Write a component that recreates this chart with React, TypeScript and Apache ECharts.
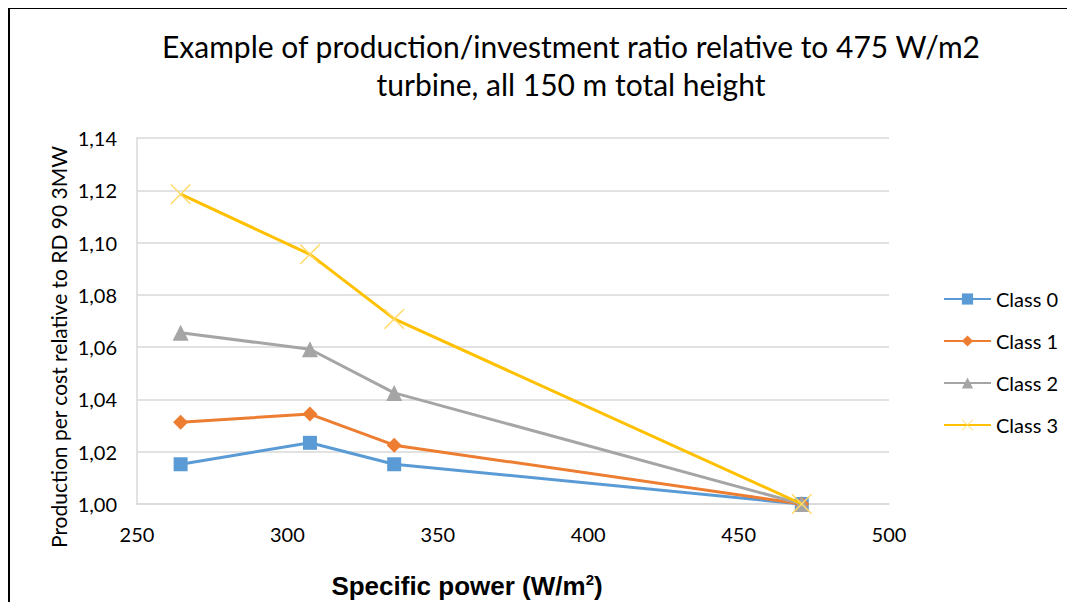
import React, { useEffect, useRef } from "react";
import * as echarts from "echarts";

const specificPower = [264.5, 307.5, 335.5, 471];
const class0 = [1.0152, 1.0234, 1.0152, 1.0];
const class1 = [1.0313, 1.0344, 1.0225, 1.0];
const class2 = [1.0655, 1.0592, 1.0425, 1.0];
const class3 = [1.1185, 1.0955, 1.0708, 1.0];
const seriesNames = ["Class 0", "Class 1", "Class 2", "Class 3"];
const yTicks = { min: 1.0, max: 1.14, step: 0.02 };
const xTicks = { min: 250, max: 500, step: 50 };
const titleText = "Example of production/investment ratio relative to 475 W/m2\nturbine, all 150 m total height";
const yName = "Production per cost relative to RD 90 3MW";

const FONT = "Lato, 'Open Sans', sans-serif";
const ARIAL = "'Liberation Sans', Arial, sans-serif";

export default function App() {
  const ref = useRef<HTMLDivElement>(null);
  useEffect(() => {
    if (!ref.current) return;
    const chart = echarts.init(ref.current, undefined, { renderer: "svg" });
    const colors = ["#5B9BD5", "#ED7D31", "#A5A5A5", "#FFC000"];
    const symbols = [
      "rect",
      "diamond",
      "triangle",
      "path://M0,0L1,0L10,9L19,0L20,0L20,1L11,10L20,19L20,20L19,20L10,11L1,20L0,20L0,19L9,10L0,1Z",
    ];
    const symbolSizes: any[] = [14, 15, 16, 20];
    const all = [class0, class1, class2, class3];
    chart.setOption({
      animation: false,
      backgroundColor: "#ffffff",
      title: {
        text: titleText,
        left: 566,
        top: 22,
        textAlign: "center",
        textStyle: {
          fontFamily: FONT,
          fontWeight: "normal",
          fontSize: 30,
          lineHeight: 38,
          color: "#000000",
        },
      },
      graphic: [
        { type: "line", shape: { x1: 9, y1: 0, x2: 9, y2: 610 }, style: { stroke: "#000", lineWidth: 2 } },
        { type: "line", shape: { x1: 8, y1: 8, x2: 1075, y2: 8 }, style: { stroke: "#000", lineWidth: 2 } },
        {
          type: "text",
          x: 58,
          y: 347,
          rotation: Math.PI / 2,
          style: {
            text: yName,
            fontFamily: FONT,
            fontSize: 21,
            fill: "#000",
            align: "center",
            verticalAlign: "middle",
          },
        },
        {
          type: "text",
          x: 467,
          y: 586,
          style: {
            text: "{a|Specific power (W/m}{b|2}{a|)}",
            align: "center",
            verticalAlign: "middle",
            rich: {
              a: { fontFamily: ARIAL, fontWeight: "bold", fontSize: 26, fill: "#000" },
              b: { fontFamily: ARIAL, fontWeight: "bold", fontSize: 15, fill: "#000", verticalAlign: "top", padding: [0, 0, 14, 0] },
            },
          },
        },
      ],
      legend: {
        orient: "vertical",
        left: 943,
        top: 289,
        padding: 0,
        itemGap: 22,
        itemWidth: 47,
        itemHeight: 14,
        data: seriesNames,
        textStyle: { fontFamily: FONT, fontSize: 20, color: "#000" },
      },
      grid: { left: 137, right: 186, top: 138, bottom: 106 },
      xAxis: {
        type: "value",
        min: xTicks.min,
        max: xTicks.max,
        interval: xTicks.step,
        axisLine: { show: true, lineStyle: { color: "#D9D9D9", width: 1.5 } },
        axisTick: { show: false },
        splitLine: { show: false },
        axisLabel: { fontFamily: FONT, fontSize: 20, color: "#000", margin: 20 },
      },
      yAxis: {
        type: "value",
        min: yTicks.min,
        max: yTicks.max,
        interval: yTicks.step,
        axisLine: { show: true, lineStyle: { color: "#D9D9D9", width: 1.5 } },
        axisTick: { show: false },
        splitLine: { show: true, lineStyle: { color: "#D9D9D9", width: 1.5 } },
        axisLabel: {
          fontFamily: FONT,
          fontSize: 20,
          color: "#000",
          margin: 20,
          formatter: (v: number) => v.toFixed(2).replace(".", ","),
        },
      },
      series: all.map((vals, i) => ({
        name: seriesNames[i],
        type: "line",
        data: vals.map((v, j) => [specificPower[j], v]),
        symbol: symbols[i],
        symbolSize: symbolSizes[i],
        showAllSymbol: true,
        lineStyle: { color: colors[i], width: 3 },
        itemStyle: {
          color: i === 3 ? "#FFD966" : colors[i],
        },
        z: 2 + i,
      })),
    });
    return () => chart.dispose();
  }, []);
  return (
    <div style={{ margin: -8, width: 1075, height: 610 }}>
      <div ref={ref} style={{ width: 1075, height: 610 }} />
    </div>
  );
}
